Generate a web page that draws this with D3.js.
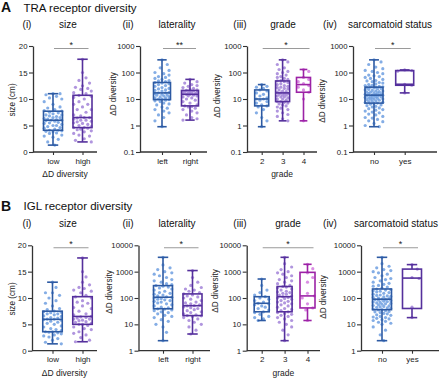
<!DOCTYPE html>
<html>
<head>
<meta charset="utf-8">
<script src="https://cdn.jsdelivr.net/npm/d3@7"></script>
<style>
  body { margin: 0; background: #fff; }
  svg { display: block; font-family: "Liberation Sans", Arial, sans-serif; }
</style>
</head>
<body>
<svg id="fig" width="440" height="382"></svg>
<script>
// ---- labels ----
const rowLetters = ["A", "B"];
const rowTitles = ["TRA receptor diversity", "IGL receptor diversity"];
const panelNumerals = ["(i)", "(ii)", "(iii)", "(iv)"];
const panelTitles = ["size", "laterality", "grade", "sarcomatoid status"];
const sizeGroups = ["low", "high"];
const lateralityGroups = ["left", "right"];
const gradeGroups = ["2", "3", "4"];
const sarcomatoidGroups = ["no", "yes"];
const xTitles = ["ΔD diversity", null, "grade", null];
const yTitles = ["size (cm)", "ΔD diversity", "ΔD diversity", "ΔD diversity"];

// ---- tick labels ----
const sizeTicks = [0, 5, 10, 15, 20];
const sizeTickLabels = ["0", "5", "10", "15", "20"];
const traTicks = [0.1, 1, 10, 100, 1000];
const traTickLabels = ["0.1", "1", "10", "100", "1000"];
const iglTicks = [1, 10, 100, 1000, 10000];
const iglTickLabels = ["1", "10", "100", "1000", "10000"];

const traSignificance = ["*", "**", "*", "*"];
const iglSignificance = ["*", "*", "*", "*"];

// ---- box summaries: [min, q1, median, q3, max] ----
const traSizeBoxes = [[1.3, 4.1, 6.0, 7.7, 11.0], [1.9, 4.6, 6.5, 10.7, 17.5]];
const traLateralityBoxes = [[0.9, 9.5, 17, 42, 300], [1.6, 5.5, 15, 21, 55]];
const traGradeBoxes = [[0.9, 5.5, 10, 22, 35], [1.5, 8, 17, 48, 300], [1.5, 18, 35, 65, 130]];
const traSarcomatoidBoxes = [[0.9, 7, 14, 28, 300], [17, 33, 36, 118, 125]];
const iglSizeBoxes = [[1.3, 3.6, 5.95, 7.5, 13.0], [1.7, 5.0, 6.5, 10.25, 17.6]];
const iglLateralityBoxes = [[2.4, 39, 107, 295, 3500], [4.3, 21.5, 51, 143, 1100]];
const iglGradeBoxes = [[14, 30, 63, 112, 525], [2.4, 30, 112, 273, 3500], [14, 42, 120, 940, 1900]];
const iglSarcomatoidBoxes = [[2.4, 36, 90, 220, 3500], [18, 40, 570, 1250, 1850]];

// ---- individual patients ----
const traSizeLow = [1.3, 1.9, 2.4, 2.8, 3.0, 3.2, 3.5, 3.6, 3.8, 3.9, 4.0, 4.1, 4.1,
  4.3, 4.5, 4.6, 4.8, 5.0, 5.0, 5.2, 5.4, 5.5, 5.6, 5.8, 5.9, 6.0,
  6.0, 6.1, 6.2, 6.3, 6.5, 6.5, 6.7, 6.8, 7.0, 7.0, 7.2, 7.4, 7.5, 7.7,
  7.8, 8.0, 8.3, 8.5, 9.0, 9.5, 10.0, 10.2, 10.5, 10.8, 11.0, 11.0];
const traSizeHigh = [1.9, 2.2, 2.5, 3.0, 3.2, 3.5, 3.8, 4.0, 4.2, 4.3, 4.5, 4.6, 4.6,
  4.8, 5.0, 5.2, 5.4, 5.5, 5.7, 5.8, 6.0, 6.0, 6.2, 6.4, 6.5, 6.5,
  6.8, 7.0, 7.5, 8.0, 8.0, 8.5, 9.0, 9.0, 9.5, 10.0, 10.3, 10.5, 10.7,
  11.0, 11.2, 11.5, 11.8, 12.0, 12.2, 12.5, 13.0, 13.5, 14.0, 15.0, 17.5];
const traLeft = [0.9, 1.5, 2.0, 2.5, 3.0, 3.5, 4.0, 4.5, 5.0, 6.0, 6.5, 7.0, 8.0, 8.5, 9.0,
  9.5, 10, 10, 11, 11, 12, 12, 13, 14, 14, 15, 16, 17,
  17, 18, 20, 21, 22, 24, 25, 27, 30, 32, 35, 38, 40, 42,
  45, 48, 50, 55, 60, 65, 70, 80, 90, 100, 120, 150, 200, 300];
const traRight = [1.6, 1.8, 2.0, 2.5, 3.0, 3.5, 4.0, 4.5, 5.0, 5.2, 5.5,
  6, 7, 8, 9, 10, 11, 12, 13, 13, 14, 15,
  15, 16, 16, 17, 17, 18, 18, 19, 20, 20, 21,
  22, 23, 25, 27, 30, 32, 35, 40, 45, 55];
const traGrade2 = [0.9, 1.5, 2.0, 3.0, 4.0, 5.0, 5.5, 6.0, 7.0, 8.0, 9.0, 10, 10,
  11, 13, 15, 17, 20, 22, 25, 28, 30, 35];
const traGrade3 = [1.5, 1.8, 2.2, 2.6, 3.0, 3.5, 4.0, 4.5, 5.0, 5.5, 6.0, 6.5, 7.0, 7.5, 8.0, 8.0,
  9, 10, 10, 11, 12, 12, 13, 14, 14, 15, 16, 16, 17,
  18, 19, 20, 22, 24, 25, 27, 28, 30, 32, 35, 38, 42, 45, 48,
  50, 55, 60, 65, 70, 80, 90, 100, 110, 130, 150, 200, 250, 300];
const traGrade4 = [1.5, 10, 18, 22, 28, 32, 38, 45, 55, 65, 110, 130];
const traNo = [0.9, 1.0, 1.2, 1.4, 1.5, 1.7, 1.9, 2.0, 2.2, 2.5, 2.7, 3.0, 3.2, 3.5, 3.8, 4.0, 4.3, 4.6, 5.0, 5.3, 5.6, 6.0, 6.4, 6.8, 7.0,
  7.3, 7.6, 8.0, 8.3, 8.6, 9.0, 9.4, 9.8, 10, 10, 10.5, 11, 11, 11.5, 12, 12, 12.5, 13, 13, 13.5, 14, 14, 14,
  15, 15, 16, 16, 17, 17, 18, 18, 19, 20, 20, 21, 22, 23, 24, 25, 26, 27, 28, 28,
  29, 30, 32, 33, 35, 37, 40, 42, 45, 48, 50, 55, 60, 65, 70, 75, 80, 90, 100, 110, 120, 140, 160, 200, 250, 300];
const traYes = [17, 33, 36, 112, 118, 125];

const iglSizeLow = [1.3, 1.6, 2.0, 2.3, 2.6, 2.8, 3.0, 3.2, 3.4, 3.5, 3.6, 3.6,
  3.8, 4.0, 4.2, 4.5, 4.7, 5.0, 5.2, 5.4, 5.6, 5.8, 5.9, 6.0,
  6.0, 6.2, 6.3, 6.5, 6.6, 6.8, 7.0, 7.0, 7.2, 7.3, 7.4, 7.5,
  7.8, 8.0, 8.5, 9.0, 9.5, 10.0, 10.5, 11.0, 11.0, 12.0, 13.0];
const iglSizeHigh = [1.7, 2.0, 2.5, 3.0, 3.3, 3.6, 4.0, 4.2, 4.5, 4.8, 5.0, 5.0,
  5.2, 5.4, 5.5, 5.7, 5.8, 6.0, 6.0, 6.2, 6.3, 6.4, 6.5,
  6.8, 7.0, 7.5, 8.0, 8.2, 8.5, 9.0, 9.2, 9.5, 10.0, 10.2,
  10.5, 11.0, 11.3, 11.5, 11.8, 12.0, 12.5, 13.0, 14.0, 15.0, 17.6];
const iglLeft = [2.4, 5, 8, 10, 13, 15, 18, 20, 22, 25, 28, 30, 33, 35, 38, 39,
  42, 45, 50, 55, 60, 65, 70, 75, 80, 85, 90, 95, 100, 107,
  110, 120, 130, 140, 150, 160, 180, 200, 220, 240, 260, 280, 295,
  320, 350, 400, 450, 500, 600, 700, 800, 900, 1000, 1200, 1400, 1800, 3500];
const iglRight = [4.3, 6, 8, 10, 12, 14, 16, 18, 20, 21, 21.5,
  23, 25, 28, 30, 33, 36, 40, 43, 46, 50, 51,
  55, 60, 65, 70, 80, 90, 100, 110, 120, 130, 143,
  160, 180, 200, 220, 250, 300, 400, 600, 1100];
const iglGrade2 = [14, 16, 18, 20, 24, 28, 30, 35, 40, 45, 50, 55, 60, 63,
  70, 80, 90, 100, 112, 130, 160, 200, 300, 525];
const iglGrade3 = [2.4, 4, 6, 8, 10, 12, 14, 16, 18, 20, 22, 24, 26, 28, 30,
  33, 37, 40, 45, 50, 55, 60, 65, 70, 75, 80, 90, 95, 100, 105, 112,
  120, 130, 140, 150, 160, 170, 180, 200, 220, 240, 260, 273,
  300, 350, 400, 450, 500, 600, 700, 800, 900, 1000, 1200, 1500, 2000, 3500];
const iglGrade4 = [14, 35, 42, 60, 100, 120, 150, 400, 600, 900, 1300, 1900];
const iglNo = [2.4, 4, 6, 8, 10, 11, 12, 13, 14, 15, 16, 17, 18, 19, 20, 22, 23, 25, 26, 28, 30, 31, 33, 35, 36,
  38, 40, 42, 44, 46, 48, 50, 52, 55, 58, 60, 62, 65, 68, 70, 73, 76, 80, 83, 86, 88, 90,
  95, 100, 105, 110, 115, 120, 125, 130, 140, 150, 160, 170, 180, 190, 200, 210, 220,
  240, 260, 280, 300, 330, 360, 400, 450, 500, 550, 600, 700, 800, 900, 1000, 1100, 1200, 1400, 1600, 2000, 3500];
const iglYes = [18, 45, 550, 600, 1250, 1850];

// ---- styling ----
const strokeColors = ["#2d5aa3", "#55309c", "#9c22a6"];
const dotColors = ["#6f9fe0", "#a283d8", "#d37ade"];

// ---- panel assembly ----
const rows = [
  { yTop: 46, yBottom: 152, titleY: 11.5, subY: 28, xTitleY: 176.5, sig: traSignificance,
    panels: [
      { groups: sizeGroups, boxes: traSizeBoxes, points: [traSizeLow, traSizeHigh], log: false, ticks: sizeTicks, tickLabels: sizeTickLabels,
        ax: 33, end: 97, c: [53, 82.5], bw: 19, yt: [12, 100], num: 27, ttl: 68 },
      { groups: lateralityGroups, boxes: traLateralityBoxes, points: [traLeft, traRight], log: true, ticks: traTicks, tickLabels: traTickLabels,
        ax: 140, end: 207, c: [162, 190], bw: 17, yt: [113, 94], num: 128, ttl: 177 },
      { groups: gradeGroups, boxes: traGradeBoxes, points: [traGrade2, traGrade3, traGrade4], log: true, ticks: traTicks, tickLabels: traTickLabels,
        ax: 247, end: 317, c: [261.7, 283, 303.5], bw: 14, yt: [217, 96], num: 240, ttl: 283 },
      { groups: sarcomatoidGroups, boxes: traSarcomatoidBoxes, points: [traNo, traYes], log: true, ticks: traTicks, tickLabels: traTickLabels,
        ax: 353, end: 437, c: [374, 404.7], bw: 18, yt: [322, 101], num: 330, ttl: 390 }
    ] },
  { yTop: 245.3, yBottom: 350.7, titleY: 210, subY: 227, xTitleY: 376, sig: iglSignificance,
    panels: [
      { groups: sizeGroups, boxes: iglSizeBoxes, points: [iglSizeLow, iglSizeHigh], log: false, ticks: sizeTicks, tickLabels: sizeTickLabels,
        ax: 32, end: 97, c: [52.5, 82.5], bw: 19.5, yt: [12, 299], num: 27, ttl: 68 },
      { groups: lateralityGroups, boxes: iglLateralityBoxes, points: [iglLeft, iglRight], log: true, ticks: iglTicks, tickLabels: iglTickLabels,
        ax: 138.5, end: 210, c: [163, 192.5], bw: 19, yt: [109, 292], num: 128, ttl: 177 },
      { groups: gradeGroups, boxes: iglGradeBoxes, points: [iglGrade2, iglGrade3, iglGrade4], log: true, ticks: iglTicks, tickLabels: iglTickLabels,
        ax: 246.7, end: 320, c: [261.7, 285, 307.5], bw: 15, yt: [215, 291], num: 240, ttl: 288 },
      { groups: sarcomatoidGroups, boxes: iglSarcomatoidBoxes, points: [iglNo, iglYes], log: true, ticks: iglTicks, tickLabels: iglTickLabels,
        ax: 361, end: 439, c: [382, 412], bw: 19, yt: [323, 297], num: 330, ttl: 396 }
    ] }
];

const svg = d3.select("#fig");

// deterministic spread: sort by y, put each dot in the slot furthest from its neighbours
function swarm(ys, halfW, r) {
  const order = d3.range(ys.length).sort((a, b) => ys[a] - ys[b]);
  const step = r * 1.1;
  const slots = [0];
  for (let k = 1; k * step <= halfW; k++) slots.push(k * step, -k * step);
  const placed = [];
  const out = [];
  order.forEach(i => {
    let best = 0, bestScore = -Infinity;
    for (const s of slots) {
      let minD = 4 * r;
      for (const p of placed) {
        const dy = p.y - ys[i];
        if (Math.abs(dy) > 4 * r) continue;
        minD = Math.min(minD, Math.hypot(p.x - s, dy));
      }
      const score = minD - 0.04 * Math.abs(s);
      if (score > bestScore) { bestScore = score; best = s; }
    }
    out[i] = best;
    placed.push({ x: best, y: ys[i] });
  });
  return out;
}

rows.forEach((row, ri) => {
  // row heading
  svg.append("text").attr("x", 1).attr("y", row.titleY + 0.5)
    .attr("font-size", 14).attr("font-weight", "bold").attr("fill", "#111")
    .text(rowLetters[ri]);
  svg.append("text").attr("x", 23.5).attr("y", row.titleY)
    .attr("font-size", 11.5).attr("fill", "#111")
    .text(rowTitles[ri]);

  row.panels.forEach((p, pi) => {
    const g = svg.append("g");

    // panel headings
    g.append("text").attr("x", p.num).attr("y", row.subY).attr("text-anchor", "middle")
      .attr("font-size", 10).attr("fill", "#111").text(panelNumerals[pi]);
    g.append("text").attr("x", p.ttl).attr("y", row.subY).attr("text-anchor", "middle")
      .attr("font-size", 10).attr("fill", "#111").text(panelTitles[pi]);

    const y = (p.log ? d3.scaleLog() : d3.scaleLinear())
      .domain(d3.extent(p.ticks))
      .range([row.yBottom, row.yTop]);
    const x = d3.scalePoint().domain(p.groups).range([p.c[0], p.c[p.c.length - 1]]);

    // y axis
    const yAxis = g.append("g")
      .attr("transform", `translate(${p.ax},0)`)
      .call(d3.axisLeft(y).tickValues(p.ticks).tickSize(4).tickSizeOuter(0)
        .tickFormat((d, i) => p.tickLabels[i]));
    yAxis.select(".domain").attr("stroke", "#333").attr("stroke-width", 1.3);
    yAxis.selectAll(".tick line").attr("stroke", "#333").attr("stroke-width", 1.1);
    yAxis.selectAll(".tick text").attr("font-size", 7.8).attr("fill", "#222")
      .attr("font-family", "Liberation Sans, Arial, sans-serif").attr("x", -5.5);

    // x axis
    const xAxis = g.append("g")
      .attr("transform", `translate(0,${row.yBottom})`)
      .call(d3.axisBottom(x).tickSize(3).tickSizeOuter(0));
    xAxis.select(".domain").remove();
    xAxis.selectAll(".tick line").attr("stroke", "#333").attr("stroke-width", 1.1);
    xAxis.selectAll(".tick text").attr("font-size", 8).attr("fill", "#222")
      .attr("font-family", "Liberation Sans, Arial, sans-serif");
    g.append("line").attr("x1", p.ax).attr("x2", p.end)
      .attr("y1", row.yBottom).attr("y2", row.yBottom)
      .attr("stroke", "#333").attr("stroke-width", 1.3);

    // axis titles
    g.append("text")
      .attr("transform", `translate(${p.yt[0]},${p.yt[1]}) rotate(-90)`)
      .attr("text-anchor", "middle").attr("dy", "0.35em")
      .attr("font-size", 8.2).attr("fill", "#222").text(yTitles[pi]);
    if (xTitles[pi]) {
      g.append("text")
        .attr("x", (p.ax + p.end) / 2).attr("y", row.xTitleY)
        .attr("text-anchor", "middle").attr("font-size", 8.5).attr("fill", "#222")
        .text(xTitles[pi]);
    }

    // significance bar
    const c0 = p.c[0], c1 = p.c[p.c.length - 1] + 6;
    g.append("line").attr("x1", c0 + 1).attr("x2", c1)
      .attr("y1", row.yTop + 2.5).attr("y2", row.yTop + 2.5)
      .attr("stroke", "#9a9a9a").attr("stroke-width", 1.1);
    g.append("text").attr("x", (c0 + 1 + c1) / 2).attr("y", row.yTop + 2)
      .attr("text-anchor", "middle").attr("font-size", 9).attr("fill", "#222")
      .text(row.sig[pi]);

    // boxes: white fill, then dots, then the outline on top
    p.groups.forEach((grp, gi) => {
      const [mn, q1, md, q3, mx] = p.boxes[gi];
      const cx = x(grp), hw = p.bw / 2;
      const col = strokeColors[gi];

      g.append("rect").attr("x", cx - hw).attr("width", p.bw)
        .attr("y", y(q3)).attr("height", y(q1) - y(q3)).attr("fill", "#fff");

      const vals = p.points[gi];
      const ys = vals.map(v => y(v));
      const offs = swarm(ys, hw, 1.6);
      g.append("g").selectAll("circle").data(vals).enter().append("circle")
        .attr("cx", (d, i) => cx + offs[i])
        .attr("cy", (d, i) => ys[i])
        .attr("r", 1.6)
        .attr("fill", dotColors[gi])
        .attr("fill-opacity", 0.85);

      const bg = g.append("g").attr("stroke", col).attr("stroke-width", 1.6).attr("fill", "none");
      bg.append("line").attr("x1", cx).attr("x2", cx).attr("y1", y(q3)).attr("y2", y(mx));
      bg.append("line").attr("x1", cx).attr("x2", cx).attr("y1", y(q1)).attr("y2", y(mn));
      bg.append("line").attr("x1", cx - hw * 0.55).attr("x2", cx + hw * 0.55).attr("y1", y(mx)).attr("y2", y(mx));
      bg.append("line").attr("x1", cx - hw * 0.55).attr("x2", cx + hw * 0.55).attr("y1", y(mn)).attr("y2", y(mn));
      bg.append("rect").attr("x", cx - hw).attr("width", p.bw)
        .attr("y", y(q3)).attr("height", y(q1) - y(q3));
      bg.append("line").attr("x1", cx - hw).attr("x2", cx + hw).attr("y1", y(md)).attr("y2", y(md));
    });
  });
});
</script>
</body>
</html>
